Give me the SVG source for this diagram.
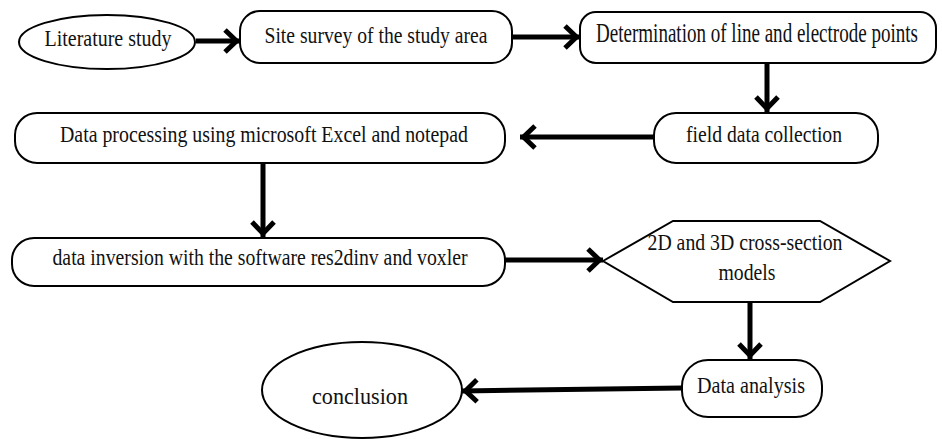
<svg xmlns="http://www.w3.org/2000/svg" width="942" height="439" viewBox="0 0 942 439">
<style>
.n{fill:#fff;stroke:#000;stroke-width:2}
.t{font-family:"Liberation Serif","DejaVu Serif","Times New Roman",serif;font-size:23px;fill:#111;text-anchor:middle}
.c{fill:none;stroke:#000;stroke-width:5}
</style>
<defs>
<marker id="ah" markerUnits="userSpaceOnUse" markerWidth="40" markerHeight="40" viewBox="-20 -20 40 40" refX="0" refY="0" orient="auto" overflow="visible">
<path d="M-15,-11 L-3.5,0 L-15,11" fill="none" stroke="#000" stroke-width="5"/>
</marker>
</defs>
<rect width="942" height="439" fill="#fff"/>
<g id="connectors">
<line class="c" x1="196" y1="41" x2="240" y2="41" marker-end="url(#ah)"/>
<line class="c" x1="512" y1="37" x2="580" y2="37" marker-end="url(#ah)"/>
<line class="c" x1="767" y1="63" x2="767" y2="112" marker-end="url(#ah)"/>
<line class="c" x1="654" y1="137" x2="520" y2="137" marker-end="url(#ah)"/>
<line class="c" x1="263" y1="163" x2="263" y2="237" marker-end="url(#ah)"/>
<line class="c" x1="505" y1="260" x2="603" y2="260" marker-end="url(#ah)"/>
<line class="c" x1="750" y1="302" x2="750" y2="359" marker-end="url(#ah)"/>
<line class="c" x1="682" y1="388" x2="462" y2="391" marker-end="url(#ah)"/>
</g>
<g id="n1"><ellipse class="n" cx="107" cy="42" rx="88" ry="27"/><text class="t" x="108" y="46" textLength="127" lengthAdjust="spacingAndGlyphs">Literature study</text></g>
<g id="n2"><rect class="n" x="240" y="11" width="272" height="52" rx="20"/><text class="t" x="376" y="43" textLength="223" lengthAdjust="spacingAndGlyphs">Site survey of the study area</text></g>
<g id="n3"><rect class="n" x="580" y="12" width="356" height="51" rx="16"/><text class="t" transform="translate(757,42) scale(1,1.2)" x="0" y="0" font-size="18" textLength="322" lengthAdjust="spacingAndGlyphs">Determination of line and electrode points</text></g>
<g id="n4"><rect class="n" x="654" y="113" width="224" height="50" rx="22"/><text class="t" x="764" y="142" textLength="156" lengthAdjust="spacingAndGlyphs">field data collection</text></g>
<g id="n5"><rect class="n" x="15" y="113" width="490" height="50" rx="22"/><text class="t" x="264" y="142" textLength="408" lengthAdjust="spacingAndGlyphs">Data processing using microsoft Excel and notepad</text></g>
<g id="n6"><rect class="n" x="12" y="238" width="493" height="48" rx="22"/><text class="t" x="260" y="265" textLength="415" lengthAdjust="spacingAndGlyphs">data inversion with the software res2dinv and voxler</text></g>
<g id="n7"><polygon class="n" points="603,261 673,221 820,221 890,261 820,302 673,302"/><text class="t" x="745" y="250" textLength="195" lengthAdjust="spacingAndGlyphs">2D and 3D cross-section</text><text class="t" x="747" y="280" textLength="57" lengthAdjust="spacingAndGlyphs">models</text></g>
<g id="n8"><rect class="n" x="682" y="360" width="140" height="57" rx="26"/><text class="t" x="751" y="393" textLength="108" lengthAdjust="spacingAndGlyphs">Data analysis</text></g>
<g id="n9"><ellipse class="n" cx="362" cy="390" rx="100" ry="48"/><text class="t" x="360" y="404" font-size="25" textLength="96" lengthAdjust="spacingAndGlyphs">conclusion</text></g>
</svg>
